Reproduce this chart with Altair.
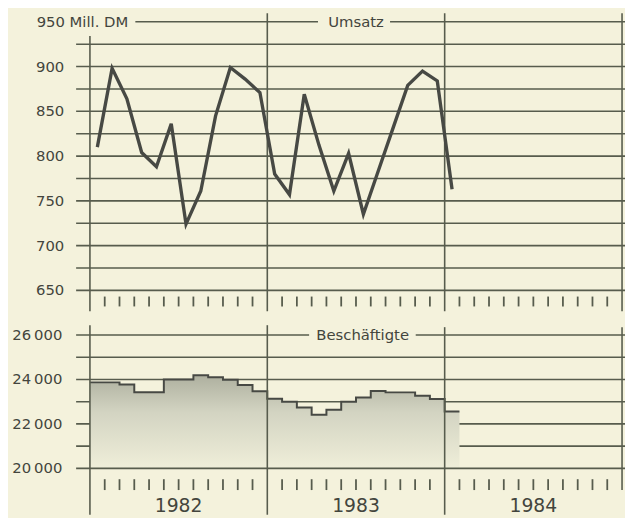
import altair as alt
import pandas as pd

# ---------------- data ----------------
years = ["1982", "1983", "1984"]
umsatz_1982 = [810, 898, 864, 804, 788, 836, 724, 761, 845, 899, 886, 871]
umsatz_1983 = [780, 757, 869, 812, 761, 803, 735, 783, 831, 879, 895, 884]
umsatz_1984 = [763]
besch_1982 = [23870, 23870, 23770, 23430, 23430, 24000, 24000, 24190, 24100, 23990, 23750, 23470]
besch_1983 = [23130, 23000, 22740, 22410, 22640, 23000, 23190, 23480, 23420, 23420, 23270, 23120]
besch_1984 = [22560]
umsatz_labels = [900, 850, 800, 750, 700, 650]
umsatz_grid = [925, 900, 875, 850, 825, 800, 775, 750, 725, 700, 675, 650]
besch_labels = [26000, 24000, 22000, 20000]
besch_grid = [25000, 24000, 23000, 22000, 21000]
year_bounds = [0, 12, 24, 36]
year_centers = [6, 18, 30]
month_ticks = [k for k in range(1, 36) if k % 12 != 0]

# ---------------- styling / geometry ----------------
BG = "#f4f2dc"
GRID = "#575c4d"
LINE = "#474944"
TXT = "#43453d"
FONT = "DejaVu Sans"

W, H = 625, 510
PX = 539 / 36          # pixels per month
X0 = 83                # pixel of the left axis
x_scale = alt.Scale(domain=[-X0 / PX, (W - X0) / PX], nice=False, zero=False)
KU = 272 / 300
u_scale = alt.Scale(domain=[950 - (H - 10.7) / KU, 950 + 10.7 / KU], nice=False, zero=False)
KB = 135 / 6000
b_scale = alt.Scale(domain=[26000 - (H - 328) / KB, 26000 + 328 / KB], nice=False, zero=False)


def hrules(values, scale, x1, x2, width=1.6):
    return alt.Chart(pd.DataFrame({"v": values})).mark_rule(
        color=GRID, strokeWidth=width
    ).encode(
        y=alt.Y("v:Q", scale=scale, axis=None),
        x=alt.value(x1), x2=alt.value(x2),
    )


def vrules(ms, y1, y2, width=1.6):
    return alt.Chart(pd.DataFrame({"m": ms})).mark_rule(
        color=GRID, strokeWidth=width
    ).encode(
        x=alt.X("m:Q", scale=x_scale, axis=None),
        y=alt.value(y1), y2=alt.value(y2),
    )


# ---------------- top panel: Umsatz ----------------
umsatz = umsatz_1982 + umsatz_1983 + umsatz_1984
df_u = pd.DataFrame({"m": [i + 0.5 for i in range(len(umsatz))], "v": umsatz})

u_line = alt.Chart(df_u).mark_line(color=LINE, strokeWidth=3.4, strokeJoin="miter").encode(
    x=alt.X("m:Q", scale=x_scale, axis=None),
    y=alt.Y("v:Q", scale=u_scale, axis=None),
)

u_lab = alt.Chart(pd.DataFrame({"v": umsatz_labels, "t": [str(v) for v in umsatz_labels]})).mark_text(
    align="right", baseline="middle", font=FONT, fontSize=15, color=TXT
).encode(y=alt.Y("v:Q", scale=u_scale, axis=None), x=alt.value(57), text="t:N")

u_lab950 = alt.Chart(pd.DataFrame({"v": [950], "t": ["950 Mill. DM"]})).mark_text(
    align="left", baseline="middle", font=FONT, fontSize=15, color=TXT
).encode(y=alt.Y("v:Q", scale=u_scale, axis=None), x=alt.value(29), text="t:N")

u_title = alt.Chart(pd.DataFrame({"m": [18], "v": [950], "t": ["Umsatz"]})).mark_text(
    align="center", baseline="middle", font=FONT, fontSize=15, color=TXT
).encode(x=alt.X("m:Q", scale=x_scale, axis=None),
         y=alt.Y("v:Q", scale=u_scale, axis=None), text="t:N")

top = alt.layer(
    hrules(umsatz_grid, u_scale, 69, W),
    hrules([950], u_scale, 129, 314),
    hrules([950], u_scale, 387, W),
    vrules([0], 25, 304),
    vrules([12, 24, 36], 2, 304),
    vrules(month_ticks, 289, 299, 1.8),
    u_line,
    u_lab,
    u_lab950,
    u_title,
)

# ---------------- bottom panel: Beschäftigte ----------------
besch = besch_1982 + besch_1983 + besch_1984
df_b = pd.DataFrame({"m": list(range(len(besch))) + [len(besch)], "v": besch + [besch[-1]]})

grad = alt.Gradient(
    gradient="linear",
    stops=[
        alt.GradientStop(color="#aeb09f", offset=0),
        alt.GradientStop(color="#d3d4c2", offset=0.4),
        alt.GradientStop(color="#efeed9", offset=1),
    ],
    x1=1, x2=1, y1=0, y2=1,
)

b_area = alt.Chart(df_b).mark_area(interpolate="step-after", color=grad).encode(
    x=alt.X("m:Q", scale=x_scale, axis=None),
    y=alt.Y("v:Q", scale=b_scale, axis=None),
    y2=alt.datum(20000),
)
b_line = alt.Chart(df_b).mark_line(interpolate="step-after", color=LINE, strokeWidth=2).encode(
    x=alt.X("m:Q", scale=x_scale, axis=None),
    y=alt.Y("v:Q", scale=b_scale, axis=None),
)

b_lab = alt.Chart(pd.DataFrame({"v": besch_labels,
                                "t": [f"{v // 1000}\u2009000" for v in besch_labels]})).mark_text(
    align="right", baseline="middle", font=FONT, fontSize=15, color=TXT
).encode(y=alt.Y("v:Q", scale=b_scale, axis=None), x=alt.value(55), text="t:N")

b_title = alt.Chart(pd.DataFrame({"m": [18.45], "v": [26000], "t": ["Beschäftigte"]})).mark_text(
    align="center", baseline="middle", font=FONT, fontSize=15, color=TXT
).encode(x=alt.X("m:Q", scale=x_scale, axis=None),
         y=alt.Y("v:Q", scale=b_scale, axis=None), text="t:N")

yr_lab = alt.Chart(pd.DataFrame({"m": year_centers, "t": years})).mark_text(
    align="center", baseline="alphabetic", font=FONT, fontSize=19, color=TXT
).encode(x=alt.X("m:Q", scale=x_scale, axis=None), y=alt.value(507.5), text="t:N")

bottom = alt.layer(
    hrules(besch_grid, b_scale, 69, W),
    hrules([26000], b_scale, 69, 305),
    hrules([26000], b_scale, 413, W),
    b_area,
    b_line,
    hrules([20000], b_scale, 69, W),
    vrules([0, 12], 318, H),
    vrules([24], 320, H),
    vrules([36], 320, 485),
    vrules(month_ticks, 474, 485, 1.8),
    b_lab,
    b_title,
    yr_lab,
)

chart = alt.layer(top, bottom).resolve_scale(y="independent").properties(
    width=W, height=H, padding=0, autosize=alt.AutoSizeParams(type="none")
).configure(background=BG).configure_view(stroke=None)

chart.save("out.html", embed_options={"renderer": "svg", "actions": False})
